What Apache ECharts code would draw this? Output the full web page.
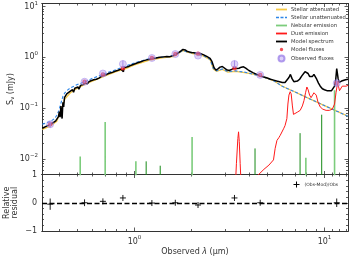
<!DOCTYPE html>
<html><head><meta charset="utf-8">
<script src="https://cdn.jsdelivr.net/npm/echarts@6/dist/echarts.min.js"></script>
<style>html,body{margin:0;padding:0;background:#fff}#c{width:353px;height:259px}</style>
</head><body><div id="c"></div>
<script>
// ---------------- data (observed wavelength in micron, flux in mJy) ----------------
const modelSpectrum = [[0.327,0.040],[0.335,0.042],[0.345,0.044],[0.355,0.046],[0.365,0.049],[0.375,0.052],[0.385,0.056],[0.392,0.060],[0.398,0.068],[0.402,0.085],[0.406,0.066],[0.41,0.11],[0.413,0.075],[0.416,0.062],[0.42,0.13],[0.424,0.105],[0.428,0.16],[0.433,0.15],[0.44,0.19],[0.448,0.20],[0.456,0.21],[0.465,0.22],[0.472,0.23],[0.478,0.205],[0.485,0.245],[0.495,0.255],[0.505,0.26],[0.51,0.235],[0.52,0.28],[0.535,0.29],[0.55,0.31],[0.565,0.30],[0.575,0.33],[0.59,0.345],[0.61,0.36],[0.63,0.37],[0.65,0.39],[0.67,0.42],[0.69,0.44],[0.71,0.455],[0.73,0.48],[0.76,0.50],[0.79,0.53],[0.82,0.555],[0.85,0.585],[0.87,0.60],[0.875,0.52],[0.88,0.62],[0.9,0.63],[0.93,0.66],[0.96,0.70],[1.0,0.74],[1.04,0.78],[1.08,0.82],[1.12,0.86],[1.16,0.89],[1.2,0.92],[1.25,0.95],[1.3,0.97],[1.36,1.0],[1.42,1.02],[1.48,1.04],[1.53,1.03],[1.56,0.99],[1.6,1.08],[1.65,1.15],[1.7,1.22],[1.75,1.32],[1.8,1.43],[1.85,1.40],[1.9,1.30],[1.95,1.27],[2.0,1.25],[2.1,1.22],[2.2,1.20],[2.3,1.13],[2.4,1.04],[2.5,0.95],[2.56,0.82],[2.62,0.63],[2.68,0.56],[2.75,0.59],[2.82,0.64],[2.9,0.66],[2.97,0.62],[3.05,0.57],[3.15,0.55],[3.25,0.58],[3.35,0.62],[3.45,0.60],[3.55,0.61],[3.65,0.64],[3.75,0.65],[3.85,0.61],[4.0,0.55],[4.2,0.50],[4.4,0.46],[4.6,0.43],[4.8,0.41],[5.0,0.39],[5.2,0.37],[5.4,0.355],[5.6,0.34],[5.8,0.33],[6.0,0.32],[6.2,0.32],[6.35,0.34],[6.5,0.40],[6.62,0.46],[6.75,0.38],[6.9,0.33],[7.05,0.32],[7.2,0.34],[7.4,0.37],[7.6,0.43],[7.75,0.47],[7.9,0.52],[8.05,0.55],[8.2,0.48],[8.35,0.42],[8.5,0.40],[8.65,0.42],[8.8,0.46],[8.95,0.44],[9.1,0.37],[9.3,0.31],[9.5,0.27],[9.75,0.24],[10.0,0.23],[10.3,0.22],[10.6,0.22],[10.9,0.22],[11.1,0.23],[11.3,0.27],[11.45,0.35],[11.6,0.60],[11.7,0.55],[11.8,0.38],[11.95,0.32],[12.1,0.31],[12.3,0.34],[12.6,0.36],[12.9,0.36],[13.3,0.37]];

const stellarUnattenuated = [[0.327,0.048],[0.345,0.051],[0.365,0.056],[0.38,0.062],[0.39,0.072],[0.40,0.09],[0.41,0.125],[0.42,0.17],[0.43,0.20],[0.44,0.22],[0.46,0.25],[0.48,0.27],[0.50,0.29],[0.53,0.315],[0.56,0.34],[0.60,0.385],[0.65,0.43],[0.70,0.48],[0.75,0.525],[0.80,0.57],[0.875,0.65],[0.95,0.73],[1.05,0.82],[1.2,0.94],[1.35,1.0],[1.5,1.03],[1.65,1.13],[1.8,1.37],[1.9,1.27],[2.1,1.18],[2.3,1.09],[2.5,0.91],[2.6,0.60],[2.7,0.54],[2.9,0.59],[3.1,0.52],[3.4,0.54],[3.8,0.51],[4.2,0.465],[4.6,0.425],[5.0,0.385],[5.4,0.345],[6.0,0.269],[7.0,0.207],[8.0,0.164],[9.0,0.134],[10.0,0.112],[11.0,0.095],[12.0,0.082],[13.3,0.069]];

const stellarAttenuated = [[0.327,0.038],[0.36,0.044],[0.39,0.055],[0.41,0.09],[0.43,0.15],[0.46,0.20],[0.5,0.245],[0.55,0.295],[0.6,0.34],[0.7,0.43],[0.8,0.52],[0.9,0.60],[1.0,0.71],[1.2,0.88],[1.4,0.98],[1.6,1.03],[1.8,1.36],[2.0,1.19],[2.3,1.07],[2.5,0.90],[2.6,0.59],[2.7,0.53],[2.9,0.58],[3.1,0.51],[3.4,0.53],[3.8,0.50],[4.2,0.465],[4.6,0.425],[5.0,0.385],[5.4,0.345],[6.0,0.269],[7.0,0.207],[8.0,0.164],[9.0,0.134],[10.0,0.112],[11.0,0.095],[12.0,0.082],[13.3,0.069]];

const dustPah33 = [[3.38,0.002],[3.44,0.008],[3.5,0.025],[3.53,0.034],[3.56,0.022],[3.6,0.008],[3.66,0.002]];
const dustEmission = [[4.4,0.0045],[4.8,0.0062],[5.1,0.0075],[5.39,0.0095],[5.5,0.016],[5.62,0.023],[5.75,0.026],[5.85,0.029],[5.95,0.027],[6.09,0.039],[6.2,0.045],[6.34,0.062],[6.42,0.12],[6.5,0.18],[6.6,0.21],[6.68,0.19],[6.78,0.11],[6.87,0.075],[7.0,0.072],[7.2,0.083],[7.45,0.09],[7.65,0.11],[7.8,0.14],[7.95,0.2],[8.08,0.26],[8.2,0.23],[8.35,0.18],[8.5,0.16],[8.65,0.17],[8.8,0.2],[8.93,0.21],[9.05,0.18],[9.25,0.13],[9.5,0.105],[9.8,0.095],[10.2,0.09],[10.6,0.09],[11.0,0.095],[11.3,0.12],[11.5,0.2],[11.7,0.3],[11.85,0.27],[12.0,0.22],[12.2,0.23],[12.4,0.27],[12.7,0.26],[13.0,0.27],[13.3,0.28]];

const nebularLinesBlended = [[0.518,0.0111],[0.701,0.053],[1.017,0.0089],[2.01,0.027],[7.98,0.0105],[11.3,0.225]];
const nebularLinesSharp = [[1.152,0.0089],[1.366,0.0073],[4.31,0.016],[7.44,0.032],[9.67,0.074]];

const bandLam   = [0.36, 0.546, 0.682, 0.869, 1.235, 1.64, 2.16, 3.36, 4.59, 11.6];
const obsFlux   = [0.048, 0.33, 0.48, 0.74, 0.97, 1.16, 1.08, 0.74, 0.45, 0.31];
const obsErr    = [0.007, 0.015, 0.02, 0.12, 0.02, 0.03, 0.03, 0.12, 0.02, 0.04];
const modelFlux = [0.048, 0.33, 0.46, 0.61, 0.97, 1.16, 1.17, 0.61, 0.45, 0.31];
const residual  = [-0.05, 0.0, 0.05, 0.17, -0.01, 0.0, -0.08, 0.17, 0.0, 0.0];
const residErr  = [0.2, 0.12, 0.05, 0.05, 0.03, 0.03, 0.04, 0.06, 0.03, 0.15];

const xMajorTicks = [1, 10];
const xMinorTicks = [0.4,0.5,0.6,0.7,0.8,0.9,2,3,4,5,6,7,8,9,11,12,13];
const yMajorTicks = [0.01, 0.1, 1, 10];
const yMinorTicks = [0.006,0.007,0.008,0.009,0.02,0.03,0.04,0.05,0.06,0.07,0.08,0.09,0.2,0.3,0.4,0.5,0.6,0.7,0.8,0.9,2,3,4,5,6,7,8,9];
const rMajorTicks = [-1, 0, 1];
const rMinorTicks = [-0.8,-0.6,-0.4,-0.2,0.2,0.4,0.6,0.8];

// ---------------- chart ----------------
const FONT = 'DejaVu Sans';
const AX = '#333';
const XMIN = 0.326, XMAX = 13.3, YMIN = 0.0049, YMAX = 11.5;
const chart = echarts.init(document.getElementById('c'), null, {renderer: 'canvas'});

const powRich = {
  b: {fontFamily: FONT, fontSize: 8, color: AX},
  e: {fontFamily: FONT, fontSize: 5.5, color: AX, padding: [0, 0, 7, 0]}
};
function powFmt(v) {
  const e = Math.round(Math.log10(v));
  return '{b|10}{e|' + (e < 0 ? '\u2212' + (-e) : e) + '}';
}

function axis(type, grid, pos, min, max, ticks, len, label) {
  const a = {
    type: type, gridIndex: grid, position: pos, min: min, max: max,
    nameMoveOverlap: false,
    axisLine: {show: true, onZero: false, lineStyle: {color: AX, width: 1}},
    axisTick: {show: true, inside: true, length: len, customValues: ticks, lineStyle: {color: AX, width: 0.8}},
    axisLabel: {show: false},
    splitLine: {show: false}, minorTick: {show: false}, minorSplitLine: {show: false}
  };
  if (type === 'log') a.logBase = 10;
  if (label) Object.assign(a.axisLabel, label);
  return a;
}

const xAxes = [
  axis('log',0,'bottom',XMIN,XMAX,xMajorTicks,3.5),
  axis('log',0,'bottom',XMIN,XMAX,xMinorTicks,2),
  axis('log',0,'top',XMIN,XMAX,xMajorTicks,3.5),
  axis('log',0,'top',XMIN,XMAX,xMinorTicks,2),
  axis('log',1,'bottom',XMIN,XMAX,xMajorTicks,3.5,{show:true, customValues:xMajorTicks, margin:4, formatter:powFmt, rich:powRich}),
  axis('log',1,'bottom',XMIN,XMAX,xMinorTicks,2),
  axis('log',1,'top',XMIN,XMAX,xMajorTicks,3.5),
  axis('log',1,'top',XMIN,XMAX,xMinorTicks,2)
];
xAxes[4].name = '{n|Observed }{i|\u03bb}{n| (\u03bcm)}';
xAxes[4].nameLocation = 'middle';
xAxes[4].nameGap = 16.5;
xAxes[4].nameTextStyle = {rich: {n: {fontFamily: FONT, fontSize: 8, color: AX}, i: {fontFamily: FONT, fontSize: 8, fontStyle: 'italic', color: AX}}};

const yAxes = [
  axis('log',0,'left',YMIN,YMAX,yMajorTicks,3.5,{show:true, customValues:yMajorTicks, margin:4, formatter:powFmt, rich:powRich}),
  axis('log',0,'left',YMIN,YMAX,yMinorTicks,2),
  axis('log',0,'right',YMIN,YMAX,yMajorTicks,3.5),
  axis('log',0,'right',YMIN,YMAX,yMinorTicks,2),
  axis('value',1,'left',-1,1,rMajorTicks,3.5,{show:true, customValues:rMajorTicks, margin:5, fontFamily:FONT, fontSize:8, color:AX, formatter: v => v < 0 ? '\u2212' + (-v) : String(v)}),
  axis('value',1,'left',-1,1,rMinorTicks,2),
  axis('value',1,'right',-1,1,rMajorTicks,3.5),
  axis('value',1,'right',-1,1,rMinorTicks,2)
];
yAxes[0].name = '{n|S}{s|\u03bd}{n| (mJy)}';
yAxes[0].nameLocation = 'middle';
yAxes[0].nameGap = 26;
yAxes[0].nameRotate = 90;
yAxes[0].nameTextStyle = {rich: {n: {fontFamily: FONT, fontSize: 8, color: AX}, s: {fontFamily: FONT, fontSize: 5.5, color: AX, padding: [5, 0, 0, 0]}}};
yAxes[4].name = 'Relative\nresidual';
yAxes[4].nameLocation = 'middle';
yAxes[4].nameGap = 23;
yAxes[4].nameRotate = 90;
yAxes[4].nameTextStyle = {fontFamily: FONT, fontSize: 8, color: AX, lineHeight: 8};

function vlines(pts) {
  const out = [];
  pts.forEach(p => { out.push([p[0], 1e-4]); out.push([p[0], p[1]]); out.push('-'); });
  return out;
}
const dustAll = dustPah33.concat(['-'], dustEmission);

const series = [
  {name: 'Stellar attenuated', type: 'line', xAxisIndex: 0, yAxisIndex: 0, data: stellarAttenuated, symbol: 'none',
   lineStyle: {color: '#f7c945', width: 1.3}, itemStyle: {color: '#f7c945'}, z: 2},
  {name: 'Stellar unattenuated', type: 'line', xAxisIndex: 0, yAxisIndex: 0, data: stellarUnattenuated, symbol: 'none',
   lineStyle: {color: '#2e86e8', width: 1.1, type: [3, 2]}, itemStyle: {color: '#2e86e8'}, z: 3},
  {name: 'Nebular emission', type: 'line', xAxisIndex: 0, yAxisIndex: 0, data: vlines(nebularLinesBlended), symbol: 'none',
   lineStyle: {color: '#7ccc7c', width: 1.6}, itemStyle: {color: '#7ccc7c'}, z: 4, connectNulls: false},
  {name: 'Nebular emission', type: 'line', xAxisIndex: 0, yAxisIndex: 0, data: vlines(nebularLinesSharp), symbol: 'none',
   lineStyle: {color: '#178a17', width: 1}, itemStyle: {color: '#178a17'}, z: 4, connectNulls: false},
  {name: 'Dust emission', type: 'line', xAxisIndex: 0, yAxisIndex: 0, data: dustAll, symbol: 'none',
   lineStyle: {color: '#ff1a1a', width: 1}, itemStyle: {color: '#ff1a1a'}, z: 5, connectNulls: false},
  {name: 'Model spectrum', type: 'line', xAxisIndex: 0, yAxisIndex: 0, data: modelSpectrum, symbol: 'none',
   lineStyle: {color: '#000', width: 1.5}, itemStyle: {color: '#000'}, z: 6},
  {name: 'Model fluxes', type: 'scatter', xAxisIndex: 0, yAxisIndex: 0, data: bandLam.map((l, i) => [l, modelFlux[i]]),
   symbol: 'circle', symbolSize: 4.5, itemStyle: {color: '#f0222a'}, z: 7},
  {name: 'obsErr', type: 'custom', xAxisIndex: 0, yAxisIndex: 0, data: bandLam.map((l, i) => [l, obsFlux[i], obsErr[i]]),
   encode: {x: 0, y: 1}, z: 8,
   renderItem: (params, api) => {
     const x = api.value(0), y = api.value(1), e = api.value(2);
     const t = api.coord([x, y + e]), b = api.coord([x, y - e]);
     return {type: 'line', shape: {x1: t[0], y1: t[1], x2: b[0], y2: b[1]}, style: {stroke: '#9b7fe0', lineWidth: 1}};
   }},
  {name: 'Observed fluxes', type: 'scatter', xAxisIndex: 0, yAxisIndex: 0, data: bandLam.map((l, i) => [l, obsFlux[i]]),
   symbol: 'circle', symbolSize: 7, itemStyle: {color: 'rgba(176,150,240,0.55)', borderColor: 'rgba(150,120,230,0.9)', borderWidth: 0.6}, z: 9},
  {name: '(Obs-Mod)/Obs', type: 'custom', xAxisIndex: 4, yAxisIndex: 4, data: bandLam.map((l, i) => [l, residual[i], residErr[i]]),
   encode: {x: 0, y: 1}, z: 5,
   renderItem: (params, api) => {
     const x = api.value(0), y = api.value(1), e = api.value(2);
     const c = api.coord([x, y]), t = api.coord([x, y + e]), b = api.coord([x, y - e]);
     const arm = 3;
     return {type: 'group', children: [
       {type: 'line', shape: {x1: c[0] - arm, y1: c[1], x2: c[0] + arm, y2: c[1]}, style: {stroke: '#000', lineWidth: 0.9}},
       {type: 'line', shape: {x1: c[0], y1: Math.min(t[1], c[1] - arm), x2: c[0], y2: Math.max(b[1], c[1] + arm)}, style: {stroke: '#000', lineWidth: 0.9}}
     ]};
   },
   markLine: {silent: true, symbol: 'none', label: {show: false}, animation: false,
     lineStyle: {color: '#000', width: 1.3, type: [5, 2.5]}, data: [{yAxis: 0}]}}
];

// legend glyphs (icon boxes are 11 x 6)
const ICON_LINE = 'path://M0,0L0,0M11,6L11,6M0,2.1L11,2.1L11,3.9L0,3.9Z';
const ICON_DASH = 'path://M0,0L0,0M11,6L11,6M0,2.3h3v1.4h-3zM4.5,2.3h3v1.4h-3zM9,2.3h2v1.4h-2z';
const ICON_DOT  = 'path://M0,0L0,0M6,6L6,6M1.3,3a1.7,1.7,0,1,0,3.4,0a1.7,1.7,0,1,0,-3.4,0z';

const option = {
  animation: false,
  backgroundColor: '#fff',
  grid: [
    {left: 42, right: 5, top: 3.5, height: 171, containLabel: false, outerBoundsMode: 'none'},
    {left: 42, right: 5, top: 174.5, height: 56.5, containLabel: false, outerBoundsMode: 'none'}
  ],
  xAxis: xAxes,
  yAxis: yAxes,
  legend: [
    {orient: 'vertical', left: 276, top: 6.5, itemWidth: 11, itemHeight: 6, itemGap: 2.0, padding: 0,
     textStyle: {fontFamily: FONT, fontSize: 5.3, color: '#333', padding: [0, 0, 0, -1]},
     data: [
       {name: 'Stellar attenuated', icon: ICON_LINE},
       {name: 'Stellar unattenuated', icon: ICON_DASH},
       {name: 'Nebular emission', icon: ICON_LINE},
       {name: 'Dust emission', icon: ICON_LINE},
       {name: 'Model spectrum', icon: ICON_LINE},
       {name: 'Model fluxes', icon: ICON_DOT},
       {name: 'Observed fluxes', icon: 'circle'}
     ]},
    {orient: 'vertical', left: 291, top: 179, itemWidth: 6, itemHeight: 6, padding: 0,
     textStyle: {fontFamily: FONT, fontSize: 4.5, color: '#333'},
     data: [{name: '(Obs-Mod)/Obs', icon: 'path://M3,0L3,6M0,3L6,3', itemStyle: {color: 'none', borderColor: '#000', borderWidth: 1}}]}
  ],
  series: series
};
chart.setOption(option);
</script>
</body></html>
